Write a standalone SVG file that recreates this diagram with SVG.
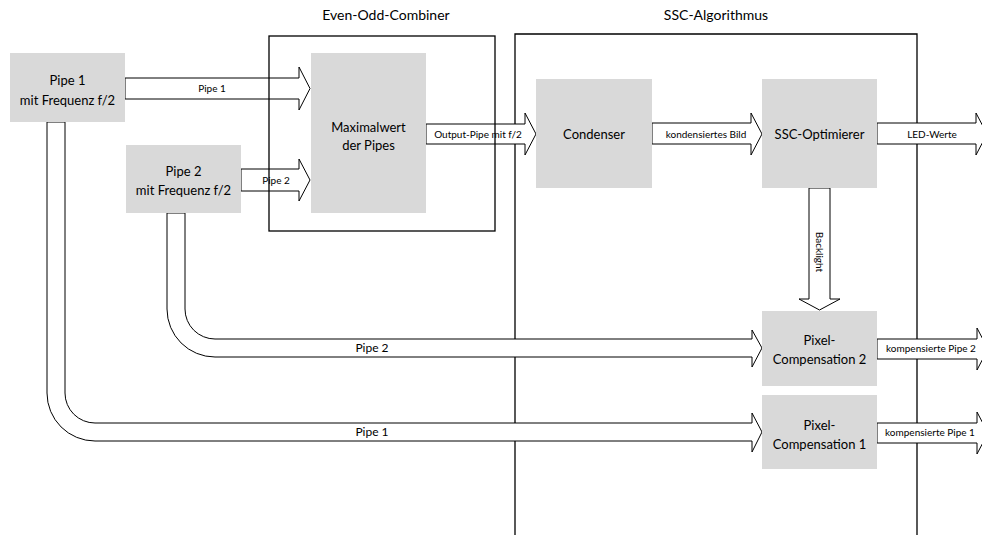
<svg xmlns="http://www.w3.org/2000/svg" width="982" height="535" viewBox="0 0 982 535">
<style>
.node{fill:#d9d9d9;stroke:none}
.frame{fill:none;stroke:#000;stroke-width:1.3}
.arr{fill:#fff;stroke:#000;stroke-width:1}
text{font-family:Lato,"Liberation Sans",sans-serif;fill:#000;text-anchor:middle}
.t{font-size:13px}
.title{font-size:14px}
.s{font-size:10px}
.m{font-size:12px}
</style>
<rect width="982" height="535" fill="#fff"/>
<g id="ssc-algorithmus">
<path class="frame" d="M515 536V34H917V536"/>
<text class="title" x="716" y="20">SSC-Algorithmus</text>
</g>
<g id="connectors">
<polygon class="arr" points="426,124 525,124 525,113 536,134 525,155 525,144 426,144"/>
<text class="s" x="478" y="138">Output-Pipe mit f/2</text>
<polygon class="arr" points="125,78 299,78 299,67 310,88.5 299,110 299,99 125,99"/>
<text class="s" x="212" y="92">Pipe 1</text>
<polygon class="arr" points="241,169 299,169 299,159 310,180 299,201 299,191 241,191"/>
<text class="s" x="276" y="184">Pipe 2</text>
<polygon class="arr" points="652,123 751,123 751,113 762,134 751,155 751,144 652,144"/>
<text class="s" x="706" y="138">kondensiertes Bild</text>
<polygon class="arr" points="877,123 976,123 976,113 987,134 976,155 976,144 877,144"/>
<text class="s" x="932" y="138">LED-Werte</text>
<polygon class="arr" points="809,188 830,188 830,299 840,299 819.5,310 799,299 809,299"/>
<text class="s" transform="translate(816,252) rotate(90)">Backlight</text>
<path class="arr" d="M167 213V309A48 48 0 0 0 215 357H752V367L762 348L752 330V339H215A30 30 0 0 1 185 309V213Z"/>
<text class="m" x="372" y="352">Pipe 2</text>
<path class="arr" d="M47 122V393A48 48 0 0 0 95 441H752V452L762 432L752 413V423H95A30 30 0 0 1 65 393V122Z"/>
<text class="m" x="372" y="436">Pipe 1</text>
<polygon class="arr" points="877,339 977,339 977,328 988,349 977,370 977,359 877,359"/>
<text class="s" x="931" y="352">kompensierte Pipe 2</text>
<polygon class="arr" points="877,423 977,423 977,412 988,433 977,454 977,443 877,443"/>
<text class="s" x="930" y="436">kompensierte Pipe 1</text>
</g>
<g id="even-odd-combiner">
<rect class="frame" x="269" y="36" width="226" height="195"/>
<text class="title" x="386" y="20">Even-Odd-Combiner</text>
</g>
<g id="pipe1">
<rect class="node" x="10" y="53" width="115" height="69"/>
<text class="t" x="67.5" y="85">Pipe 1</text>
<text class="t" x="67.5" y="105">mit Frequenz f/2</text>
</g>
<g id="pipe2">
<rect class="node" x="126" y="145" width="115" height="68"/>
<text class="t" x="183.5" y="176">Pipe 2</text>
<text class="t" x="183.5" y="195">mit Frequenz f/2</text>
</g>
<g id="maximalwert">
<rect class="node" x="311" y="53" width="115" height="160"/>
<text class="t" x="368.5" y="132">Maximalwert</text>
<text class="t" x="368.5" y="150">der Pipes</text>
</g>
<g id="condenser">
<rect class="node" x="536" y="79" width="116" height="109"/>
<text class="t" x="594" y="139">Condenser</text>
</g>
<g id="ssc-optimierer">
<rect class="node" x="762" y="79" width="115" height="109"/>
<text class="t" x="819.5" y="139">SSC-Optimierer</text>
</g>
<g id="pixel-compensation-2">
<rect class="node" x="762" y="311" width="115" height="75"/>
<text class="t" x="819.5" y="345">Pixel-</text>
<text class="t" x="819.5" y="364">Compensation 2</text>
</g>
<g id="pixel-compensation-1">
<rect class="node" x="762" y="395" width="115" height="74"/>
<text class="t" x="819.5" y="430">Pixel-</text>
<text class="t" x="819.5" y="449">Compensation 1</text>
</g>
</svg>
